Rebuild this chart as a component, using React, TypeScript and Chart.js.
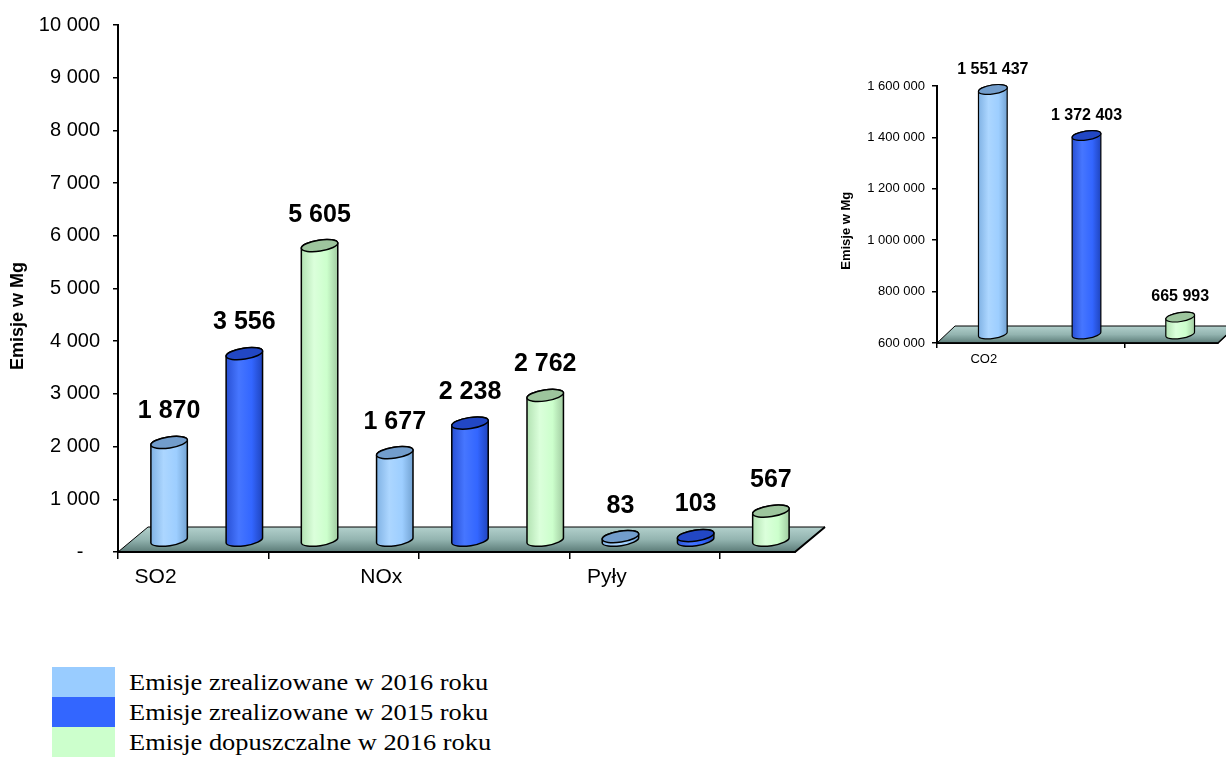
import React, { useEffect, useRef } from 'react';
import { Chart, registerables } from 'chart.js';

Chart.register(...registerables);
Chart.defaults.font.family = "'Liberation Sans', Arial, sans-serif";
Chart.defaults.color = '#000';

// ---- data ----
const pollutants = ['SO2', 'NOx', 'Pyły'];
const realized2016 = [1870, 1677, 83];
const realized2015 = [3556, 2238, 103];
const allowed2016 = [5605, 2762, 567];

const co2Category = ['CO2'];
const co2Realized2016 = [1551437];
const co2Realized2015 = [1372403];
const co2Allowed2016 = [665993];

const mainAxis = { min: 0, max: 10000, step: 1000 };
const co2Axis = { min: 600000, max: 1600000, step: 200000 };

const seriesNames = [
  'Emisje zrealizowane w 2016 roku',
  'Emisje zrealizowane w 2015 roku',
  'Emisje dopuszczalne w 2016 roku',
];
const axisTitle = 'Emisje w Mg';

// ---- styles ----
const seriesColors = ['#99ccff', '#3366ff', '#ccffcc'];
const seriesTopColors = ['#729dcc', '#2247c4', '#9dc59d'];
const seriesBodyStops = [
  ['#80b2e4', '#acd6ff', '#9dceff', '#72a2d2'],
  ['#2850d4', '#4676ff', '#3366ff', '#1f44bd'],
  ['#b2e2b2', '#dbffdb', '#ccffcc', '#a0caa0'],
];

const fmt = (v: number) => String(v).replace(/\B(?=(\d{3})+(?!\d))/g, ' ');

function interleave(cats: string[], series: number[][]) {
  const labels: string[] = [];
  const values: number[] = [];
  const idx: number[] = [];
  cats.forEach((c, i) =>
    series.forEach((s, k) => {
      labels.push(k === 0 ? c : '');
      values.push(s[i]);
      idx.push(k);
    })
  );
  return { labels, values, idx };
}

const cylinderPlugin = {
  id: 'cyl3d',
  beforeDatasetsDraw(chart: any, _a: any, o: any) {
    const { ctx, chartArea: a } = chart;
    ctx.save();
    const g = ctx.createLinearGradient(0, a.bottom + o.floorDy, 0, a.bottom);
    g.addColorStop(0, '#b2d0cc');
    g.addColorStop(0.5, '#93b4b0');
    g.addColorStop(1, '#5b7b77');
    ctx.beginPath();
    ctx.moveTo(a.left, a.bottom);
    ctx.lineTo(a.right, a.bottom);
    ctx.lineTo(a.right + o.floorDx, a.bottom + o.floorDy);
    ctx.lineTo(a.left + o.floorDx, a.bottom + o.floorDy);
    ctx.closePath();
    ctx.fillStyle = g;
    ctx.fill();
    ctx.lineWidth = 1;
    ctx.strokeStyle = '#000';
    ctx.stroke();
    ctx.beginPath();
    ctx.moveTo(a.left, a.bottom);
    ctx.lineTo(a.right, a.bottom);
    ctx.lineTo(a.right + o.floorDx, a.bottom + o.floorDy);
    ctx.lineWidth = o.edgeWidth;
    ctx.stroke();
    ctx.restore();
  },
  afterDatasetsDraw(chart: any, _a: any, o: any) {
    const { ctx, chartArea } = chart;
    const meta = chart.getDatasetMeta(0);
    const ds = chart.data.datasets[0];
    ctx.save();
    meta.data.forEach((el: any, i: number) => {
      const p = el.getProps(['x', 'y', 'base', 'width'], true);
      const k = ds.seriesIdx[i];
      const cx = p.x + o.dx;
      const top = p.y + o.dy;
      const bot = Math.min(p.base, chartArea.bottom) + o.dy;
      const rx = p.width * o.widthFrac;
      const ry = o.ry;
      const th = o.tilt;
      const stops = seriesBodyStops[k];
      const g = ctx.createLinearGradient(cx - rx, 0, cx + rx, 0);
      g.addColorStop(0, stops[0]);
      g.addColorStop(0.35, stops[1]);
      g.addColorStop(0.7, stops[2]);
      g.addColorStop(1, stops[3]);
      ctx.beginPath();
      ctx.ellipse(cx, bot, rx, ry, th, Math.PI, 0, true);
      ctx.ellipse(cx, top, rx, ry, th, 0, Math.PI, true);
      ctx.closePath();
      ctx.fillStyle = g;
      ctx.fill();
      ctx.lineWidth = o.lineWidth;
      ctx.strokeStyle = '#000';
      ctx.stroke();
      ctx.beginPath();
      ctx.ellipse(cx, top, rx, ry, th, 0, Math.PI * 2);
      ctx.fillStyle = seriesTopColors[k];
      ctx.fill();
      ctx.stroke();
      ctx.font = o.labelFont;
      ctx.fillStyle = '#000';
      ctx.textAlign = 'center';
      ctx.textBaseline = 'middle';
      ctx.fillText(fmt(ds.data[i]), cx, top - o.labelGap);
    });
    ctx.restore();
  },
};

function buildConfig(
  cats: string[],
  series: number[][],
  axis: { min: number; max: number; step: number },
  s: any
) {
  const d = interleave(cats, series);
  return {
    type: 'bar',
    data: {
      labels: d.labels,
      datasets: [
        {
          data: d.values,
          seriesIdx: d.idx,
          backgroundColor: 'rgba(0,0,0,0)',
          borderWidth: 0,
          categoryPercentage: 1,
          barPercentage: 1,
        },
      ],
    },
    options: {
      responsive: false,
      animation: false,
      events: [],
      layout: { padding: { top: s.padTop, right: s.padRight, left: 0, bottom: 0 } },
      plugins: {
        legend: { display: false },
        tooltip: { enabled: false },
        cyl3d: s.cyl,
      },
      scales: {
        x: {
          grid: {
            drawOnChartArea: false,
            drawTicks: true,
            tickLength: s.xTickLen,
            lineWidth: 1.5,
            color: (c: any) => (c.index % 2 === 0 ? '#000' : 'rgba(0,0,0,0)'),
          },
          border: { color: '#000', width: 2 },
          ticks: {
            autoSkip: false,
            maxRotation: 0,
            color: '#000',
            font: { size: s.xFont },
            padding: s.xPad,
          },
          afterFit: (sc: any) => {
            sc.height = s.xHeight;
          },
        },
        y: {
          min: axis.min,
          max: axis.max,
          ticks: {
            stepSize: axis.step,
            color: '#000',
            font: { size: s.yFont },
            padding: s.yPad,
            callback: (v: number) => (v === 0 ? '-   ' : fmt(v)),
          },
          grid: { drawOnChartArea: false, tickLength: 5, lineWidth: 1.5, color: '#000' },
          border: { color: '#000', width: 2 },
          title: {
            display: true,
            text: axisTitle + ' '.repeat(s.titleShift),
            color: '#000',
            font: { size: s.titleFont, weight: 'bold' },
            padding: { top: s.titlePad, bottom: 0 },
          },
          afterFit: (sc: any) => {
            sc.width = s.yWidth;
          },
        },
      },
    },
    plugins: [cylinderPlugin],
  };
}

function ChartCanvas({ make, left, top, width, height }: any) {
  const ref = useRef<HTMLCanvasElement | null>(null);
  useEffect(() => {
    const chart = new Chart(ref.current as any, make() as any);
    return () => chart.destroy();
  }, []);
  return (
    <canvas
      ref={ref}
      width={width}
      height={height}
      style={{ position: 'absolute', left, top, width, height }}
    />
  );
}

export default function App() {
  const mainMake = () =>
    buildConfig(pollutants, [realized2016, realized2015, allowed2016], mainAxis, {
      padTop: 22,
      padRight: 35,
      xTickLen: 7,
      xFont: 21,
      xPad: 6,
      xHeight: 68,
      yFont: 20,
      yPad: 13,
      yWidth: 118,
      titleFont: 18,
      titlePad: 7,
      titleShift: 11,
      cyl: {
        dx: 13.5,
        dy: -11,
        widthFrac: 0.245,
        ry: 5.5,
        tilt: -0.15,
        floorDx: 30,
        floorDy: -25,
        edgeWidth: 2,
        lineWidth: 1.5,
        labelFont: "bold 25px 'Liberation Sans', Arial, sans-serif",
        labelGap: 31,
      },
    });
  const co2Make = () =>
    buildConfig(co2Category, [co2Realized2016, co2Realized2015, co2Allowed2016], co2Axis, {
      padTop: 36,
      padRight: 8,
      xTickLen: 5,
      xFont: 13,
      xPad: 4,
      xHeight: 27,
      yFont: 13,
      yPad: 7,
      yWidth: 107,
      titleFont: 13,
      titlePad: 9,
      titleShift: 9,
      cyl: {
        dx: 9,
        dy: -9,
        widthFrac: 0.155,
        ry: 4.5,
        tilt: -0.15,
        floorDx: 18,
        floorDy: -17,
        edgeWidth: 1.5,
        lineWidth: 1.2,
        labelFont: "bold 16px 'Liberation Sans', Arial, sans-serif",
        labelGap: 20,
      },
    });

  return (
    <div
      style={{
        position: 'absolute',
        left: 0,
        top: 0,
        width: 1226,
        height: 757,
        background: '#fff',
        overflow: 'hidden',
      }}
    >
      <ChartCanvas make={mainMake} left={0} top={0} width={830} height={620} />
      <ChartCanvas make={co2Make} left={830} top={50} width={396} height={320} />
      <div style={{ position: 'absolute', left: 52, top: 667 }}>
        {seriesNames.map((n, i) => (
          <div key={i} style={{ display: 'flex', alignItems: 'center', height: 30 }}>
            <div style={{ width: 63, height: 30, background: seriesColors[i] }} />
            <span
              style={{
                marginLeft: 14,
                fontFamily: "'Liberation Serif', 'Times New Roman', serif",
                fontSize: 24,
                lineHeight: 1,
                whiteSpace: 'nowrap',
                display: 'inline-block',
                transform: 'scaleX(1.1)',
                transformOrigin: 'left center',
                color: '#000',
              }}
            >
              {n}
            </span>
          </div>
        ))}
      </div>
    </div>
  );
}
